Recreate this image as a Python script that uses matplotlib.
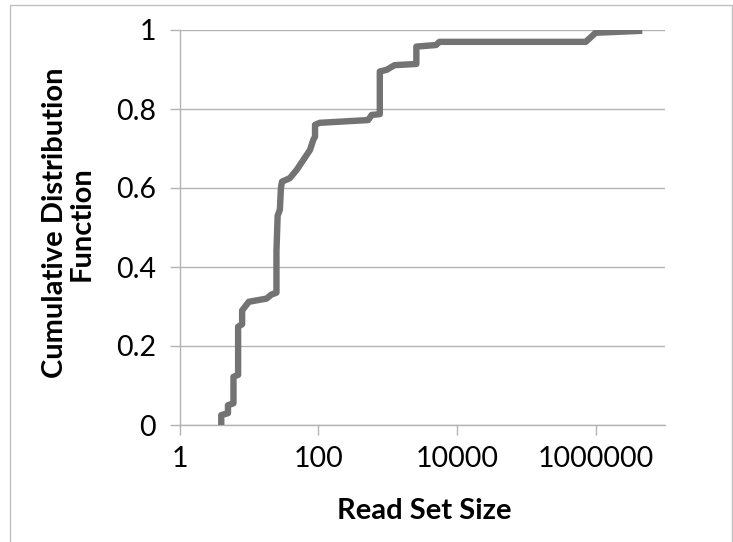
import matplotlib
matplotlib.use("Agg")
import matplotlib.pyplot as plt
from matplotlib.patches import Rectangle
from matplotlib.ticker import FixedLocator, FixedFormatter, NullLocator

read_set_size = [4, 4, 5, 5, 6, 6, 7, 7, 8, 8, 10, 18, 21, 25, 25, 26, 28, 29, 30,
                 39, 49, 61, 76, 85, 90, 90, 105, 525, 590, 773, 773, 965, 1262,
                 2600, 2600, 5000, 5600, 720000, 1000000, 4700000]
cdf = [0.0, 0.025, 0.03, 0.05, 0.055, 0.122, 0.127, 0.249, 0.255, 0.29, 0.312, 0.32,
       0.33, 0.335, 0.44, 0.53, 0.545, 0.60, 0.616,
       0.625, 0.646, 0.671, 0.696, 0.722, 0.73, 0.76, 0.765, 0.772, 0.785, 0.787,
       0.895, 0.899, 0.911, 0.914, 0.958, 0.962, 0.970, 0.970, 0.993, 0.998]

x_ticks = [1, 100, 10000, 1000000]
x_tick_labels = ["1", "100", "10000", "1000000"]
y_ticks = [0, 0.2, 0.4, 0.6, 0.8, 1]
y_tick_labels = ["0", "0.2", "0.4", "0.6", "0.8", "1"]

plt.rcParams['font.family'] = ['Lato', 'DejaVu Sans']

W, H = 733, 542
fig = plt.figure(figsize=(W / 100, H / 100), dpi=100)
fig.patches.append(Rectangle((10 / W, -0.1), (732 - 10) / W, 1.1 - 5 / H,
                             transform=fig.transFigure, fill=False,
                             edgecolor='#bfbfbf', linewidth=1.0))

ax = fig.add_axes([179.5 / W, 1 - 425 / H, (665 - 179.5) / W, (425 - 30) / H])
ax.set_xscale('log')
ax.set_xlim(1, 1e7)
ax.set_ylim(0, 1)

ax.plot(read_set_size, cdf, color='#737373', linewidth=4.6,
        solid_joinstyle='round', solid_capstyle='butt', zorder=3)

ax.xaxis.set_major_locator(FixedLocator(x_ticks))
ax.xaxis.set_major_formatter(FixedFormatter(x_tick_labels))
ax.xaxis.set_minor_locator(NullLocator())
ax.yaxis.set_major_locator(FixedLocator(y_ticks))
ax.yaxis.set_major_formatter(FixedFormatter(y_tick_labels))

ax.grid(axis='y', color='#b3b3b3', linewidth=1.0, zorder=0)
for s in ['top', 'right']:
    ax.spines[s].set_visible(False)
for s in ['left', 'bottom']:
    ax.spines[s].set_color('#b3b3b3')
    ax.spines[s].set_linewidth(1.0)

ax.tick_params(axis='both', which='major', color='#b3b3b3', length=7, width=1.0,
               labelsize=20.5, labelcolor='black', direction='out')
ax.tick_params(axis='x', pad=8)
ax.tick_params(axis='y', pad=10)

ax.set_xlabel('Read Set Size', fontsize=21, fontweight='bold')
ax.xaxis.label.set_va('center')
ax.xaxis.set_label_coords(0.504, -0.218)
ax.set_ylabel('Cumulative Distribution\nFunction', fontsize=21, fontweight='bold',
              linespacing=1.05)
ax.yaxis.label.set_va('center')
ax.yaxis.label.set_ha('center')
ax.yaxis.set_label_coords(-0.229, 0.511)

fig.savefig('out.png', dpi=100)
